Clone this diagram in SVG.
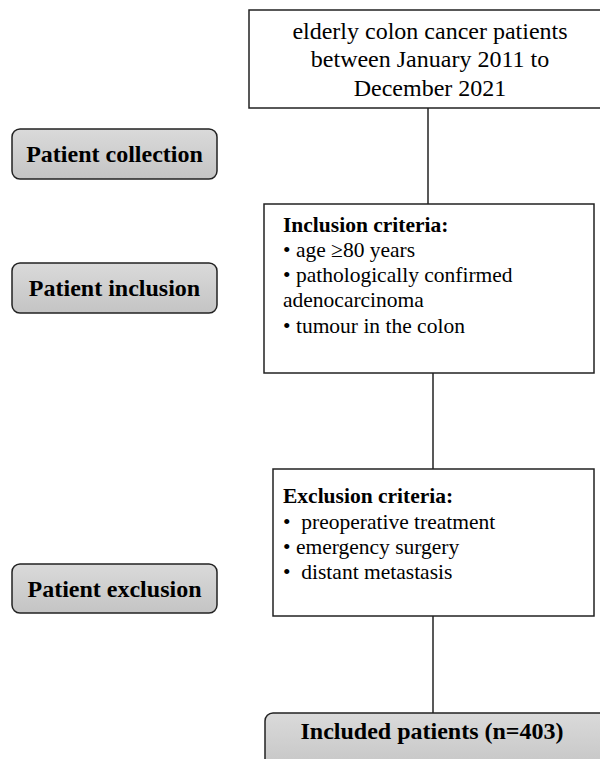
<svg xmlns="http://www.w3.org/2000/svg" width="600" height="759" viewBox="0 0 600 759">
<defs>
<linearGradient id="g" x1="0" y1="0" x2="0" y2="1">
<stop offset="0" stop-color="#dadada"/>
<stop offset="1" stop-color="#c4c4c4"/>
</linearGradient>
<style>
.stage{fill:url(#g);stroke:#222;stroke-width:1.5}
.box{fill:#fff;stroke:#222;stroke-width:1.5}
.lbl{font-family:"Liberation Serif","Times New Roman",serif;font-weight:bold;font-size:24px;fill:#000;text-anchor:middle}
.t{font-family:"Liberation Serif","Times New Roman",serif;font-size:21.5px;fill:#000;white-space:pre}
.tc{font-family:"Liberation Serif","Times New Roman",serif;font-size:24px;fill:#000;text-anchor:middle}
.b{font-weight:bold}
.conn{stroke:#222;stroke-width:1.5;fill:none}
</style>
</defs>
<rect width="600" height="759" fill="#fff"/>
<g id="connectors">
<line class="conn" x1="428" y1="108" x2="428" y2="204"/>
<line class="conn" x1="433" y1="373" x2="433" y2="469"/>
<line class="conn" x1="433" y1="616" x2="433" y2="713"/>
</g>
<g id="patient-collection">
<rect class="stage" x="12" y="129" width="205" height="50" rx="8"/>
<text class="lbl" x="114.5" y="162">Patient collection</text>
</g>
<g id="patient-inclusion">
<rect class="stage" x="12" y="263" width="205" height="50" rx="8"/>
<text class="lbl" x="114.5" y="296">Patient inclusion</text>
</g>
<g id="patient-exclusion">
<rect class="stage" x="12" y="564" width="205" height="49" rx="8"/>
<text class="lbl" x="114.5" y="597">Patient exclusion</text>
</g>
<g id="source">
<rect class="box" x="249" y="10" width="362" height="98"/>
<text class="tc" x="430" y="39">elderly colon cancer patients</text>
<text class="tc" x="430" y="67">between January 2011 to</text>
<text class="tc" x="430" y="96">December 2021</text>
</g>
<g id="inclusion">
<rect class="box" x="264" y="204" width="330" height="169"/>
<text class="t b" x="283" y="232">Inclusion criteria:</text>
<text class="t" x="283" y="257">• age ≥80 years</text>
<text class="t" x="283" y="282">• pathologically confirmed</text>
<text class="t" x="283" y="307">adenocarcinoma</text>
<text class="t" x="283" y="333">• tumour in the colon</text>
</g>
<g id="exclusion">
<rect class="box" x="273" y="469" width="321" height="147"/>
<text class="t b" x="283" y="503">Exclusion criteria:</text>
<text class="t" x="283" y="529">•  preoperative treatment</text>
<text class="t" x="283" y="554">• emergency surgery</text>
<text class="t" x="283" y="579">•  distant metastasis</text>
</g>
<g id="included">
<rect class="stage" x="265" y="713" width="345" height="60" rx="8"/>
<text class="lbl" x="432" y="739">Included patients (n=403)</text>
</g>
</svg>
